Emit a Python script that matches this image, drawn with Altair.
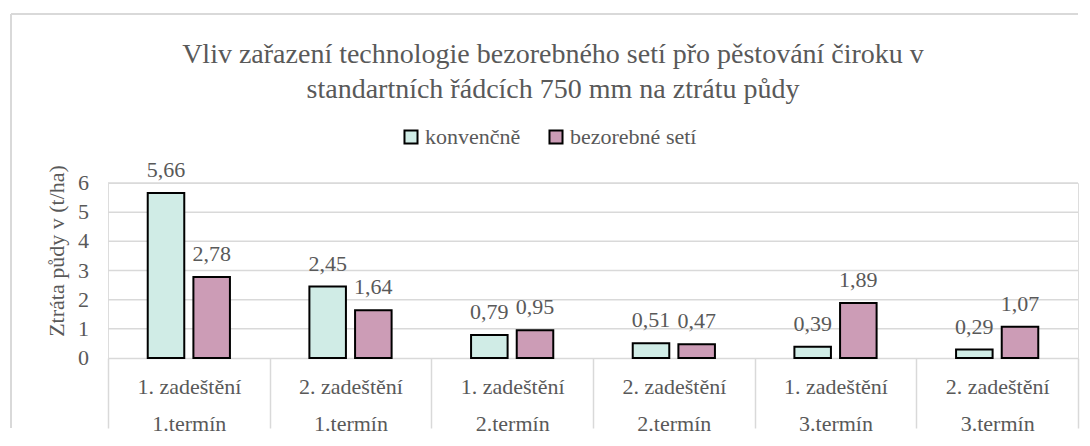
import altair as alt
import pandas as pd

categories = ["1. zadeštění|1.termín", "2. zadeštění|1.termín",
              "1. zadeštění|2.termín", "2. zadeštění|2.termín",
              "1. zadeštění|3.termín", "2. zadeštění|3.termín"]
series = ["konvenčně", "bezorebné setí"]
konvencne = [5.66, 2.45, 0.79, 0.51, 0.39, 0.29]
bezorebne = [2.78, 1.64, 0.95, 0.47, 1.89, 1.07]
y_ticks = [0, 1, 2, 3, 4, 5, 6]
colors = ["#D0ECE6", "#CC9CB6"]
title_lines = ["Vliv zařazení technologie bezorebného setí přo pěstování čiroku v",
               "standartních řádcích 750 mm na ztrátu půdy"]
y_title = "Ztráta půdy v (t/ha)"

rows = []
for c, a, b in zip(categories, konvencne, bezorebne):
    rows.append({"kat": c, "serie": series[0], "v": a})
    rows.append({"kat": c, "serie": series[1], "v": b})
df = pd.DataFrame(rows)
ticks_df = pd.DataFrame({"t": y_ticks})

FONT = "Liberation Serif"
GRAY = "#595959"
LIGHT = "#d9d9d9"
FS = 22

x_enc = alt.X("kat:N", sort=categories,
              scale=alt.Scale(paddingInner=0, paddingOuter=0),
              axis=alt.Axis(title=None, labelAngle=0, labelFont=FONT, labelFontSize=FS,
                            labelColor=GRAY, labelExpr="split(datum.label, '|')",
                            labelLineHeight=37, labelBaseline="top", labelPadding=-52,
                            labelLimit=0, ticks=True, tickBand="extent", tickSize=70,
                            tickColor=LIGHT, tickWidth=1.5, domainColor=LIGHT,
                            domainWidth=1.5, grid=False, labelOverlap=False))
xo_enc = alt.XOffset("serie:N", sort=series,
                     scale=alt.Scale(paddingInner=0.2, paddingOuter=0.87))
y_scale = alt.Scale(domain=[0, 6], nice=False)
y_enc = alt.Y("v:Q", scale=y_scale, axis=None)

base = alt.Chart(df)

grid = alt.Chart(ticks_df).transform_filter("datum.t > 0").mark_rule(
    color=LIGHT, strokeWidth=1.5).encode(
    y=alt.Y("t:Q", scale=y_scale, axis=None), x=alt.value(0), x2=alt.value(970))

ylabels = alt.Chart(ticks_df).mark_text(
    font=FONT, fontSize=FS, color=GRAY, align="right", baseline="middle").encode(
    y=alt.Y("t:Q", scale=y_scale, axis=None), x=alt.value(-19), text="t:Q")

bars = base.mark_bar(stroke="black", strokeWidth=2).encode(
    x=x_enc, xOffset=xo_enc, y=y_enc,
    color=alt.Color("serie:N", sort=series,
                    scale=alt.Scale(domain=series, range=colors),
                    legend=alt.Legend(title=None, orient="none", legendX=292, legendY=-57,
                                      direction="horizontal", symbolType="square",
                                      symbolSize=170, symbolStrokeColor="black",
                                      symbolStrokeWidth=2, symbolOpacity=1,
                                      labelFont=FONT, labelFontSize=FS, labelColor=GRAY,
                                      labelOffset=3, columnPadding=24, padding=0,
                                      labelLimit=0))
)

labels = base.transform_calculate(
    lab="replace(format(datum.v, '.2f'), '.', ',')"
).mark_text(font=FONT, fontSize=FS, color=GRAY, baseline="alphabetic", dy=-16).encode(
    x=alt.X("kat:N", sort=categories), xOffset=alt.XOffset("serie:N", sort=series),
    y=alt.Y("v:Q", scale=y_scale, axis=None), text="lab:N"
)

one = pd.DataFrame({"a": [0]})
title = alt.Chart(one).mark_text(
    text=title_lines, font=FONT, fontSize=28, color=GRAY, lineHeight=35,
    align="center", baseline="alphabetic"
).encode(x=alt.value(445), y=alt.value(-120))

ytitle = alt.Chart(one).mark_text(
    text=y_title, font=FONT, fontSize=FS, color=GRAY, angle=270,
    align="center", baseline="middle"
).encode(x=alt.value(-51), y=alt.value(68))

top_line = alt.Chart(one).mark_rule(color=LIGHT, strokeWidth=2).encode(
    x=alt.value(-97), x2=alt.value(970), y=alt.value(-169))
left_line = alt.Chart(one).mark_rule(color=LIGHT, strokeWidth=2).encode(
    x=alt.value(-97), y=alt.value(-169), y2=alt.value(245))

inner = alt.layer(top_line, left_line, grid, ylabels, title, ytitle, bars, labels).properties(
    width=970, height=175)

chart = alt.hconcat(inner).properties(
    background="white",
    padding={"left": 1, "top": 4, "right": 0, "bottom": 0},
).configure_view(strokeWidth=0).configure(font=FONT)

chart.save("out.html", embed_options={"renderer": "svg", "actions": False})
